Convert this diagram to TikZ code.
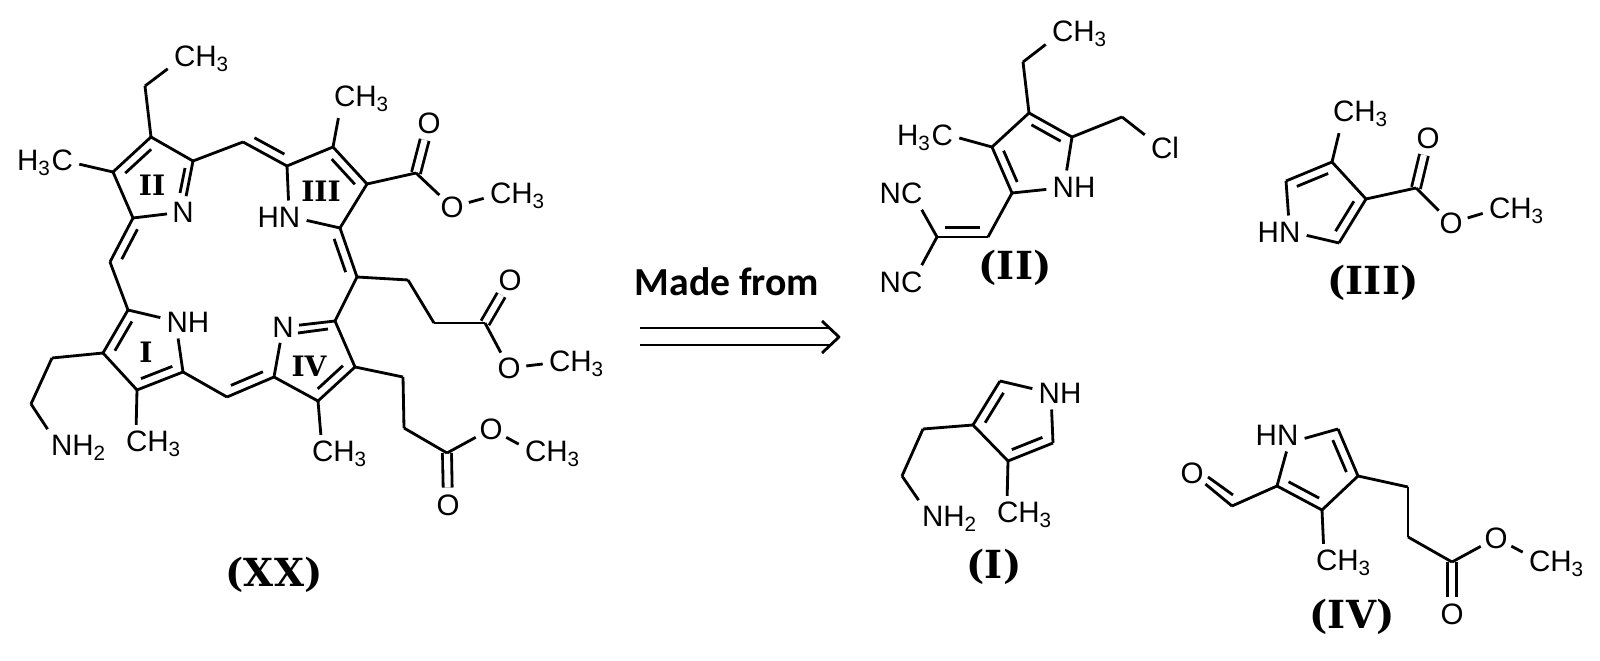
\documentclass[tikz,border=0pt]{standalone}
\usepackage{fontspec}
\usetikzlibrary{calc}
\newfontfamily\chemfont{Liberation Sans}
\newfontfamily\headfont{Carlito}
\newfontfamily\tagfont{DejaVu Serif}
\newcommand{\methyl}{CH\textsubscript{3}}
\newcommand{\inbond}[3][.16]{\draw ($(#2)!#1!(#3)!2.6pt!90:(#3)$) -- ($(#3)!#1!(#2)!2.6pt!-90:(#2)$);}
\tikzset{
  lab/.style={font=\chemfont\fontsize{8.4}{10}\selectfont,inner sep=1.4pt},
  oxy/.style={lab,circle,inner sep=0pt,minimum size=9.1pt},
  nit/.style={lab,circle,inner sep=0pt,minimum size=7.4pt},
  ringno/.style={font=\tagfont\bfseries\fontsize{8}{10}\selectfont,inner sep=0pt},
  tag/.style={font=\tagfont\bfseries\fontsize{11}{13}\selectfont,inner sep=0pt},
  dbl/.style={double,double distance=1.75pt}
}
\begin{document}
\begin{tikzpicture}[x=0.01cm,y=-0.01cm,line width=.8pt,line join=round]
  \useasboundingbox (0,0) rectangle (1600,661);
  \draw
    (151,137) coordinate (c1)
    (113,172) coordinate (c2)
    (133,218) coordinate (c3)
    (193,161) coordinate (c4)
    (145,86) coordinate (c5)
    (287,166) coordinate (c6)
    (333,147) coordinate (c7)
    (367,184) coordinate (c8)
    (340,228) coordinate (c9)
    (416,173) coordinate (c10)
    (408,280) coordinate (c11)
    (434,323) coordinate (c12)
    (485,323) coordinate (c13)
    (335,321) coordinate (c14)
    (355,367) coordinate (c15)
    (318,401) coordinate (c16)
    (274,377) coordinate (c17)
    (403,377) coordinate (c18)
    (404,428) coordinate (c19)
    (447,453) coordinate (c20)
    (183,372) coordinate (c21)
    (137,390) coordinate (c22)
    (103,353) coordinate (c23)
    (128,310) coordinate (c24)
    (52,358) coordinate (c25)
    (31,404) coordinate (c26)
    (243,142) coordinate (m1)
    (357,277) coordinate (m2)
    (227,397) coordinate (m3)
    (110,262) coordinate (m4)
    (180,193) coordinate (i2a)
    (185,168) coordinate (i2b)
    (298,333) coordinate (i4a)
    (328,329) coordinate (i4b);
  \node[lab] (me1) at (202,59) {\methyl};
  \node[lab] (me2) at (45,163) {H\textsubscript{3}C};
  \node[lab] (me3) at (362,99) {\methyl};
  \node[lab] (me4) at (518,196) {\methyl};
  \node[lab] (me5) at (577,364) {\methyl};
  \node[lab] (me6) at (340,454) {\methyl};
  \node[lab] (me7) at (553,454) {\methyl};
  \node[lab] (me8) at (154,444) {\methyl};
  \node[lab] (nh2) at (79,448) {NH\textsubscript{2}};
  \node[nit] (n2) at (183,212) {N};
  \node[nit] (n4) at (283,327) {N};
  \node[lab] (hn3) at (279,217) {HN};
  \node[lab] (nh1) at (188,322) {NH};
  \node[oxy] (o1) at (429,123) {O};
  \node[oxy] (o2) at (452,207) {O};
  \node[oxy] (o3) at (510,280) {O};
  \node[oxy] (o4) at (509,368) {O};
  \node[oxy] (o5) at (448,505) {O};
  \node[oxy] (o6) at (491,429) {O};
  \node[ringno] (r2) at (152,185) {II};
  \node[ringno] (r3) at (321,191) {III};
  \node[ringno] (r1) at (146,352) {I};
  \node[ringno] (r4) at (309,366) {IV};
  \node[tag] (xx) at (274,575) {(XX)};
  \begin{scope}
    \draw[dbl] (c10) to (o1);
    \draw[dbl] (c13) to (o3);
    \draw[dbl] (c20) to (o5);
    \draw (c1) to (c2);
    \draw (c2) to (c3);
    \draw (c3) to (n2);
    \draw (n2) to (c4);
    \draw (c4) to (c1);
    \draw (c1) to (c5);
    \draw (c5) to (me1.196);
    \draw (c2) to (me2.358);
    \draw (c4) to (m1);
    \draw (m1) to (c6);
    \draw (c6) to (c7);
    \draw (c7) to (c8);
    \draw (c8) to (c9);
    \draw (c9) to (hn3.353);
    \draw (hn3.60) to (c6);
    \draw (c7) to (me3.219);
    \draw (c8) to (c10);
    \draw (c10) to (o2);
    \draw (o2) to (me4.184);
    \draw (c9) to (m2);
    \draw (m2) to (c11);
    \draw (c11) to (c12);
    \draw (c12) to (c13);
    \draw (c13) to (o4);
    \draw (o4) to (me5.west);
    \draw (m2) to (c14);
    \draw (c14) to (n4);
    \draw (n4) to (c17);
    \draw (c17) to (c16);
    \draw (c16) to (c15);
    \draw (c15) to (c14);
    \draw (c16) to (me6.135);
    \draw (c15) to (c18);
    \draw (c18) to (c19);
    \draw (c19) to (c20);
    \draw (c20) to (o6);
    \draw (o6) to (me7.164);
    \draw (c17) to (m3);
    \draw (m3) to (c21);
    \draw (c21) to (c22);
    \draw (c22) to (c23);
    \draw (c23) to (c24);
    \draw (c24) to (nh1.171);
    \draw (nh1.239) to (c21);
    \draw (c22) to (me8.133);
    \draw (c23) to (c25);
    \draw (c25) to (c26);
    \draw (c26) to (nh2.149);
    \draw (c24) to (m4);
    \draw (m4) to (c3);
    \draw (i2a) to (i2b);
    \draw (i4a) to (i4b);
    \inbond{c1}{c2}
    \inbond{m1}{c6}
    \inbond{c3}{m4}
    \inbond{c8}{c7}
    \inbond{m2}{c9}
    \inbond{c24}{c23}
    \inbond{c22}{c21}
    \inbond{m3}{c17}
    \inbond{c16}{c15}
  \end{scope}
  \draw
    (1029,113) coordinate (a1)
    (1072,137) coordinate (a2)
    (992,147) coordinate (a3)
    (1012,193) coordinate (a4)
    (1023,62) coordinate (a5)
    (1122,117) coordinate (a6)
    (988,237) coordinate (a7)
    (937,237) coordinate (a8);
  \node[lab] (ame1) at (1080,34) {\methyl};
  \node[lab] (ame2) at (925,138) {H\textsubscript{3}C};
  \node[lab] (acl) at (1165,148) {Cl};
  \node[lab] (anh) at (1074,187) {NH};
  \node[lab] (anc1) at (901,193) {NC};
  \node[lab] (anc2) at (901,282) {NC};
  \node[tag] (tag2) at (1015,268) {(II)};
  \begin{scope}
    \draw (a1) to (a2);
    \draw (a1) to (a3);
    \draw (a3) to (a4);
    \draw (a1) to (a5);
    \draw (a5) to (ame1.197);
    \draw (a3) to (ame2.east);
    \draw (a2) to (a6);
    \draw (a6) to (acl.147);
    \draw (a2) to (anh.114);
    \draw (a4) to (anh.185);
    \draw (a4) to (a7);
    \draw (a7) to (a8);
    \draw (a8) to (anc1.321);
    \draw (a8) to (anc2.39);
    \inbond{a2}{a1}
    \inbond{a3}{a4}
    \inbond{a8}{a7}
  \end{scope}
  \draw
    (1332,162) coordinate (b1)
    (1286,181) coordinate (b2)
    (1366,199) coordinate (b3)
    (1339,243) coordinate (b4)
    (1416,188) coordinate (b5);
  \node[lab] (bme1) at (1361,114) {\methyl};
  \node[lab] (bme2) at (1517,211) {\methyl};
  \node[lab] (bhn) at (1279,232) {HN};
  \node[oxy] (bo1) at (1428,138) {O};
  \node[oxy] (bo2) at (1451,223) {O};
  \node[tag] (tag3) at (1373,283) {(III)};
  \begin{scope}
    \draw[dbl] (b5) to (bo1);
    \draw (b1) to (b2);
    \draw (b1) to (b3);
    \draw (b3) to (b4);
    \draw (b2) to (bhn.60);
    \draw (b4) to (bhn.353);
    \draw (b1) to (bme1.221);
    \draw (b3) to (b5);
    \draw (b5) to (bo2);
    \draw (bo2) to (bme2.184);
    \inbond{b1}{b2}
    \inbond{b4}{b3}
  \end{scope}
  \draw
    (1000,381) coordinate (d1)
    (973,425) coordinate (d2)
    (1008,461) coordinate (d3)
    (1053,443) coordinate (d4)
    (923,429) coordinate (d5)
    (902,476) coordinate (d6);
  \node[lab] (dnh) at (1060,393) {NH};
  \node[lab] (dnh2) at (950,519) {NH\textsubscript{2}};
  \node[lab] (dme) at (1025,515) {\methyl};
  \node[tag] (tag1) at (994,567) {(I)};
  \begin{scope}
    \draw (d1) to (d2);
    \draw (d2) to (d3);
    \draw (d3) to (d4);
    \draw (d1) to (dnh.171);
    \draw (d4) to (dnh.243);
    \draw (d3) to (dme.133);
    \draw (d2) to (d5);
    \draw (d5) to (d6);
    \draw (d6) to (dnh2.149);
    \inbond{d1}{d2}
    \inbond{d3}{d4}
  \end{scope}
  \draw
    (1338,429) coordinate (e1)
    (1358,476) coordinate (e2)
    (1322,510) coordinate (e3)
    (1277,486) coordinate (e4)
    (1232,506) coordinate (e5)
    (1408,487) coordinate (e6)
    (1408,537) coordinate (e7)
    (1452,562) coordinate (e8)
    (1208,477) coordinate (i5a)
    (1233,495) coordinate (i5b);
  \node[lab] (ehn) at (1277,435) {HN};
  \node[lab] (eme1) at (1344,563) {\methyl};
  \node[lab] (eme2) at (1557,564) {\methyl};
  \node[oxy] (eo1) at (1192,473) {O};
  \node[oxy] (eo2) at (1452,614) {O};
  \node[oxy] (eo3) at (1496,538) {O};
  \node[tag] (tag4) at (1352,617) {(IV)};
  \begin{scope}
    \draw[dbl] (e8) to (eo2);
    \draw (e1) to (e2);
    \draw (e2) to (e3);
    \draw (e3) to (e4);
    \draw (e1) to (ehn.353);
    \draw (e4) to (ehn.300);
    \draw (e4) to (e5);
    \draw (e5) to (eo1);
    \draw (i5a) to (i5b);
    \draw (e3) to (eme1.137);
    \draw (e2) to (e6);
    \draw (e6) to (e7);
    \draw (e7) to (e8);
    \draw (e8) to (eo3);
    \draw (eo3) to (eme2.161);
    \inbond{e2}{e1}
    \inbond{e4}{e3}
  \end{scope}
  \node[font=\headfont\bfseries\fontsize{11.3}{13}\selectfont,inner sep=0pt] (made) at (727,282) {Made from};
  \draw
    (640,328) coordinate (w1)
    (830,328) coordinate (e9)
    (640,345) coordinate (w2)
    (830,345) coordinate (e10)
    (822,321) coordinate (tipa)
    (839,337) coordinate (tip)
    (822,353) coordinate (tipb);
  \draw (w1) to (e9);
  \draw (w2) to (e10);
  \draw (tipa) -- (tip) -- (tipb);
\end{tikzpicture}
\end{document}
